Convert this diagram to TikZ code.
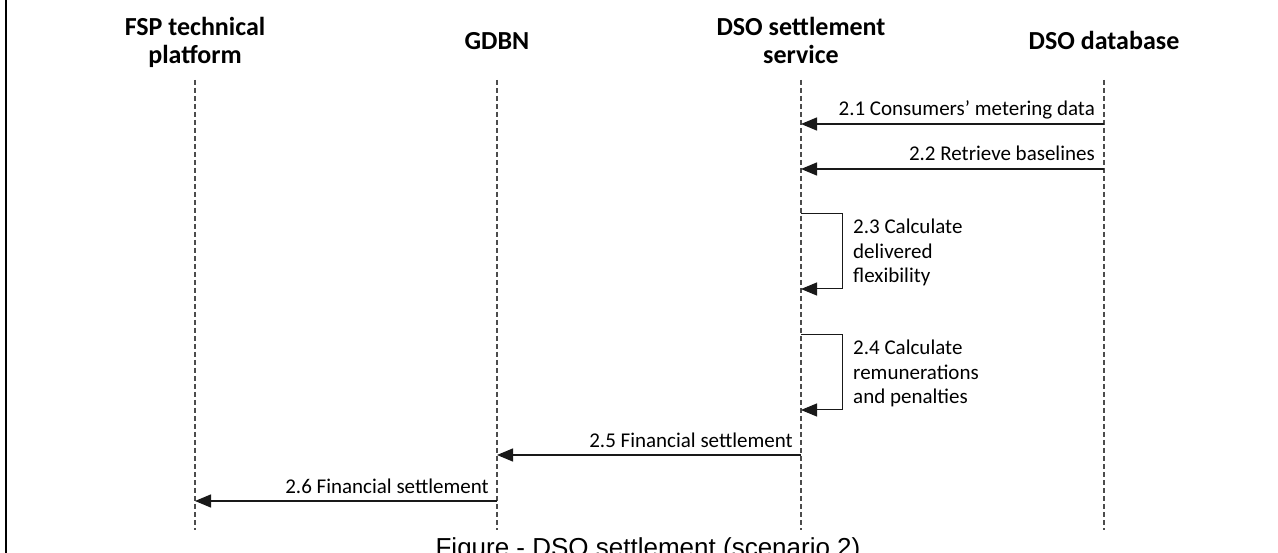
\documentclass[tikz,border=0pt]{standalone}
\usepackage{fontspec}
\setmainfont{Carlito}
\newfontfamily\captionfont{Liberation Sans}
\usetikzlibrary{arrows.meta}

% centred and left-aligned multi-line stacks whose baseline is the first line
\newcommand\stackc[2]{\vtop{\baselineskip=#1\halign{\hfil##\hfil\cr#2\crcr}}}
\newcommand\stackl[2]{\vtop{\baselineskip=#1\halign{##\hfil\cr#2\crcr}}}

\tikzset{
  header/.style={font=\fontsize{26}{28}\selectfont\bfseries, inner sep=0pt, anchor=base},
  lifeline/.style={draw=black!70, line width=1.3pt, dash pattern=on 5pt off 3pt},
  msg/.style={draw=black!90, line width=1.3pt, -{Triangle[length=16pt,width=13pt]}},
  selfmsg/.style={draw=black!90, line width=1pt, -{Triangle[length=16pt,width=13pt]}},
  msglabel/.style={font=\fontsize{21}{24.5}\selectfont, inner sep=0pt, anchor=base east},
  notelabel/.style={font=\fontsize{21}{24.5}\selectfont, inner sep=0pt, anchor=base west},
}

\begin{document}
\begin{tikzpicture}[x=1pt, y=-1pt]
  \useasboundingbox (0,0) rectangle (1278,553);
  \fill[white] (0,0) rectangle (1278,553);

  % frame edge on the left
  \draw[line width=2pt] (6,0) -- (6,553);

  % participants
  \node[header] (hfsp)  at (195,36)  {\stackc{28pt}{FSP technical\cr platform}};
  \node[header] (hgdbn) at (497,50)  {GDBN};
  \node[header] (hdss)  at (801,36)  {\stackc{28pt}{DSO settlement\cr service}};
  \node[header] (hdb)   at (1104,50) {DSO database};

  % lifelines
  \coordinate (fspT) at (195,80);  \coordinate (fspB) at (195,530);
  \coordinate (gdbT) at (497,80);  \coordinate (gdbB) at (497,530);
  \coordinate (dssT) at (801,80);  \coordinate (dssB) at (801,530);
  \coordinate (dbT)  at (1104,80); \coordinate (dbB)  at (1104,530);
  \draw[lifeline] (fspT) -- (fspB);
  \draw[lifeline] (gdbT) -- (gdbB);
  \draw[lifeline] (dssT) -- (dssB);
  \draw[lifeline] (dbT)  -- (dbB);

  % 2.1 and 2.2: database to settlement service
  \coordinate (m1s) at (1104,124); \coordinate (m1e) at (801,124);
  \draw[msg] (m1s) -- (m1e);
  \node[msglabel] (l1) at (1095,116) {2.1 Consumers’ metering data};

  \coordinate (m2s) at (1104,169); \coordinate (m2e) at (801,169);
  \draw[msg] (m2s) -- (m2e);
  \node[msglabel] (l2) at (1095,161) {2.2 Retrieve baselines};

  % 2.3 and 2.4: self calls of the settlement service
  \coordinate (m3s) at (801,214); \coordinate (m3e) at (801,289);
  \draw[selfmsg] (m3s) -- (842,214) -- (842,289) -- (m3e);
  \node[notelabel] (l3) at (853,234) {\stackl{24.5pt}{2.3 Calculate\cr delivered\cr flexibility}};

  \coordinate (m4s) at (801,335); \coordinate (m4e) at (801,410);
  \draw[selfmsg] (m4s) -- (842,335) -- (842,410) -- (m4e);
  \node[notelabel] (l4) at (853,355) {\stackl{24.5pt}{2.4 Calculate\cr remunerations\cr and penalties}};

  % 2.5 and 2.6: financial settlement passed on
  \coordinate (m5s) at (801,455); \coordinate (m5e) at (497,455);
  \draw[msg] (m5s) -- (m5e);
  \node[msglabel] (l5) at (793,447) {2.5 Financial settlement};

  \coordinate (m6s) at (497,501); \coordinate (m6e) at (195,501);
  \draw[msg] (m6s) -- (m6e);
  \node[msglabel] (l6) at (489,493) {2.6 Financial settlement};

  % caption
  \node[font=\captionfont\fontsize{26}{28}\selectfont, inner sep=0pt, anchor=base] (cap)
    at (648,556) {Figure - DSO settlement (scenario 2)};
\end{tikzpicture}
\end{document}
